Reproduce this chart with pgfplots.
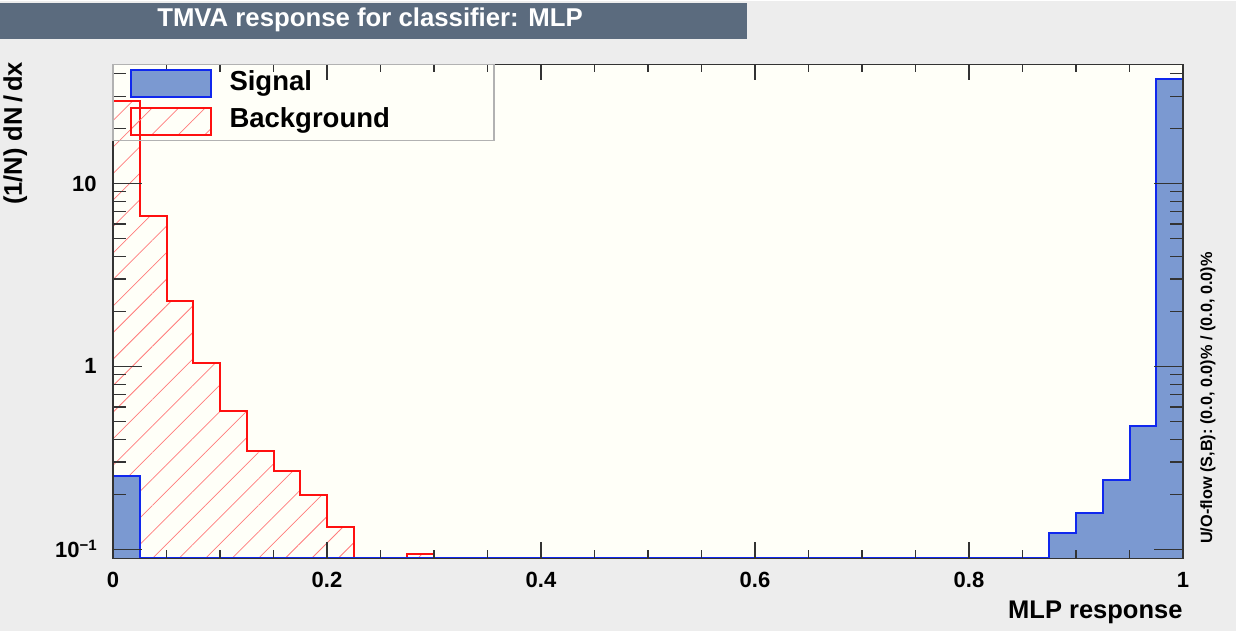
\documentclass[border=0pt]{standalone}
\usepackage{fontspec}
\setmainfont{Liberation Sans}
\usepackage{pgfplots}
\pgfplotsset{compat=1.18}
\usetikzlibrary{patterns.meta}
\definecolor{pagebg}{HTML}{EDEDED}
\definecolor{titlebg}{HTML}{5B6B7E}
\definecolor{plotbg}{HTML}{FFFFF8}
\definecolor{sigfill}{HTML}{7B99D1}
\definecolor{sigline}{HTML}{1028EE}
\definecolor{bkgline}{HTML}{FF1010}
\definecolor{framegray}{HTML}{333333}

\newcommand{\tickfont}{\bfseries\fontsize{8.8}{10}\selectfont}
\newcommand{\labfont}{\bfseries\fontsize{10.2}{12}\selectfont}

% background histogram, bins of 0.025 (left edges), empty bins at the floor
\pgfplotstableread{
x y
0 0.0893
0 28.2
0.025 6.62
0.05 2.27
0.075 1.05
0.1 0.574
0.125 0.347
0.15 0.269
0.175 0.199
0.2 0.133
0.225 0.0893
0.275 0.0944
0.3 0.0893
0.875 0.0893
}\bkgtab

\pgfplotstableread{
x y
0 0.0893
0 0.253
0.025 0.0893
0.875 0.123
0.9 0.159
0.925 0.238
0.95 0.475
0.975 37.4
1 0.0893
}\sigtab

\begin{document}
\begin{tikzpicture}[x=0.4pt,y=0.4pt]
  % canvas and title bar (1 unit = 1 px of the reference)
  \fill[pagebg] (0,0) rectangle (1236,630);
  \fill[titlebg] (0,592) rectangle (747,628);
  \node[text=white, font=\bfseries\fontsize{10.3}{12}\selectfont] at (370,611)
    {TMVA response for classifier: MLP};

  % histograms + x ticks
  \begin{axis}[
    at={(45.2pt,29.2pt)}, anchor=south west,
    width=428pt, height=197.6pt, scale only axis,
    xmin=0, xmax=1, ymin=0.0893, ymax=44.8, ymode=log,
    axis background/.style={fill=plotbg},
    axis on top,
    axis line style={framegray, line width=0.5pt},
    xtick={0,0.2,0.4,0.6,0.8,1},
    xticklabels={0,0.2,0.4,0.6,0.8,1},
    minor x tick num=3,
    ytick=\empty,
    major tick length=6.4pt, minor tick length=3.2pt,
    tick style={framegray, line width=0.5pt},
    x tick label style={font=\tickfont, yshift=-2pt},
  ]
    \addplot[const plot mark left, draw=none,
      pattern={Lines[angle=45,distance=7.5pt,line width=0.3pt]},
      pattern color=bkgline!55] table {\bkgtab};
    \addplot[const plot mark left, color=bkgline, line width=0.8pt, fill=none]
      table {\bkgtab};
    \addplot[const plot mark left, color=sigline, fill=sigfill, line width=0.8pt]
      table {\sigtab};
  \end{axis}

  % y ticks (longer, as in the ROOT frame)
  \begin{axis}[
    at={(45.2pt,29.2pt)}, anchor=south west,
    width=428pt, height=197.6pt, scale only axis,
    xmin=0, xmax=1, ymin=0.0893, ymax=44.8, ymode=log,
    axis line style={framegray, line width=0.5pt},
    xtick=\empty,
    ytick={0.1,1,10},
    yticklabels={10\raisebox{0.6ex}{\fontsize{6}{6}\selectfont −1},1,10},
    minor ytick={0.2,0.3,0.4,0.5,0.6,0.7,0.8,0.9,2,3,4,5,6,7,8,9,20,30,40},
    major tick length=11.6pt, minor tick length=5.2pt,
    tick style={framegray, line width=0.5pt},
    y tick label style={font=\tickfont, xshift=-3pt},
  ]
  \end{axis}

  % legend
  \draw[gray!60, line width=0.5pt] (113,567) rectangle (494,491);
  \draw[sigline, fill=sigfill, line width=0.8pt] (131,561) rectangle (211,534);
  \fill[pattern={Lines[angle=45,distance=7.5pt,line width=0.3pt]},
    pattern color=bkgline!55] (131,523) rectangle (211,496);
  \draw[bkgline, line width=0.8pt] (131,523) rectangle (211,496);
  \node[anchor=west, font=\bfseries\fontsize{11}{13}\selectfont, inner sep=0pt] at (229,548) {Signal};
  \node[anchor=west, font=\bfseries\fontsize{11}{13}\selectfont, inner sep=0pt] at (229,511) {Background};

  % axis titles
  \node[anchor=base east, font=\labfont, inner sep=0pt] at (1183,13) {MLP response};
  \node[rotate=90, anchor=base east, font=\labfont, inner sep=0pt] at (22,570) {(1/N) dN\,/\,dx};
  \node[rotate=90, anchor=base west, font=\bfseries\fontsize{6.5}{8}\selectfont, inner sep=0pt]
    at (1212,87) {U/O-flow (S,B): (0.0, 0.0)\% / (0.0, 0.0)\%};
\end{tikzpicture}
\end{document}
